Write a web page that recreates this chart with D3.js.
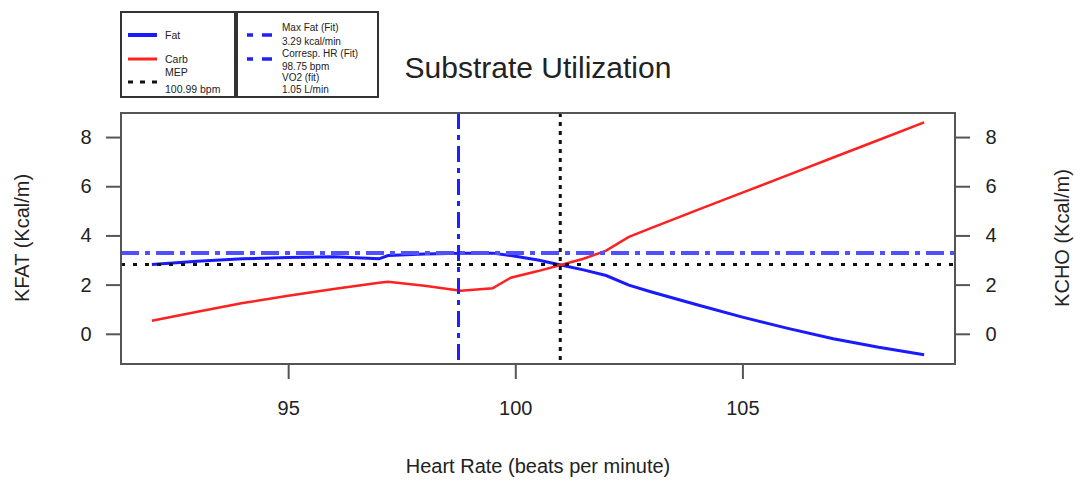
<!DOCTYPE html>
<html>
<head>
<meta charset="utf-8">
<script src="https://cdn.jsdelivr.net/npm/d3@7"></script>
<style>
  body { margin: 0; background: #fff; }
  svg { display: block; font-family: "Liberation Sans", Arial, Helvetica, sans-serif; }
</style>
</head>
<body>
<svg id="grafico" width="1075" height="481"></svg>
<script>
// Dados
const hr   = [92, 93, 94, 95, 96, 97, 97.2, 98, 98.8, 99.5, 99.9, 100.5, 101, 101.5, 102, 102.5, 103, 104, 105, 106, 107, 108, 109];
const fat  = [2.82, 2.95, 3.05, 3.1, 3.13, 3.05, 3.18, 3.24, 3.28, 3.28, 3.18, 3.0, 2.8, 2.6, 2.37, 1.98, 1.7, 1.18, 0.68, 0.22, -0.2, -0.55, -0.85];
const carb = [0.53, 0.9, 1.25, 1.55, 1.82, 2.08, 2.12, 1.95, 1.75, 1.85, 2.28, 2.55, 2.8, 3.05, 3.38, 3.94, 4.31, 5.03, 5.74, 6.45, 7.17, 7.88, 8.6];
const xTicks = [95, 100, 105];
const yTicks = [0, 2, 4, 6, 8];

const maxFat = 3.29;      // kcal/min
const hrMaxFat = 98.75;   // bpm
const mepHr = 100.99;     // bpm
const mepKcal = 2.82;

const legenda1 = ["Fat", "Carb", "MEP", "100.99 bpm"];
const legenda2 = ["Max Fat (Fit)", "3.29 kcal/min", "Corresp. HR (Fit)", "98.75 bpm", "VO2 (fit)", "1.05 L/min"];

const svg = d3.select("#grafico");
const caixa = { left: 121, right: 955, top: 113, bottom: 364 };
const corTexto = "#222";
const corEixo = "#555";

// escalas estilo R (4% de folga)
function folga(ext) {
    const p = (ext[1] - ext[0]) * 0.04;
    return [ext[0] - p, ext[1] + p];
}
const x = d3.scaleLinear().domain(folga(d3.extent(hr))).range([caixa.left, caixa.right]);
const y = d3.scaleLinear().domain(folga(d3.extent(fat.concat(carb)))).range([caixa.bottom, caixa.top]);

svg.append("clipPath").attr("id", "recorte")
    .append("rect")
    .attr("x", caixa.left).attr("y", caixa.top)
    .attr("width", caixa.right - caixa.left).attr("height", caixa.bottom - caixa.top);

const area = svg.append("g").attr("clip-path", "url(#recorte)");

const linha = d3.line().x(d => x(d[0])).y(d => y(d[1]));

area.append("path")
    .attr("d", linha(hr.map((h, i) => [h, fat[i]])))
    .attr("fill", "none").attr("stroke", "#1a1aff").attr("stroke-width", 3);

area.append("path")
    .attr("d", linha(hr.map((h, i) => [h, carb[i]])))
    .attr("fill", "none").attr("stroke", "#ff2020").attr("stroke-width", 2.5);

// linhas de referência
area.append("line")
    .attr("x1", caixa.left).attr("x2", caixa.right)
    .attr("y1", y(maxFat)).attr("y2", y(maxFat))
    .attr("stroke", "#5050ff").attr("stroke-width", 4)
    .attr("stroke-dasharray", "18,6,5,6");

area.append("line")
    .attr("x1", x(hrMaxFat)).attr("x2", x(hrMaxFat))
    .attr("y1", caixa.top).attr("y2", caixa.bottom)
    .attr("stroke", "#2020ff").attr("stroke-width", 3)
    .attr("stroke-dasharray", "16,6,5,6");

area.append("line")
    .attr("x1", caixa.left).attr("x2", caixa.right)
    .attr("y1", y(mepKcal)).attr("y2", y(mepKcal))
    .attr("stroke", "#111").attr("stroke-width", 3)
    .attr("stroke-dasharray", "4,8");

area.append("line")
    .attr("x1", x(mepHr)).attr("x2", x(mepHr))
    .attr("y1", caixa.top).attr("y2", caixa.bottom)
    .attr("stroke", "#111").attr("stroke-width", 3)
    .attr("stroke-dasharray", "4,5");

// caixa do gráfico
svg.append("rect")
    .attr("x", caixa.left).attr("y", caixa.top)
    .attr("width", caixa.right - caixa.left).attr("height", caixa.bottom - caixa.top)
    .attr("fill", "none").attr("stroke", corEixo).attr("stroke-width", 2);

// eixos
function estilo(g) {
    g.select(".domain").remove();
    g.selectAll(".tick line").attr("stroke", corEixo).attr("stroke-width", 2);
    g.selectAll(".tick text").attr("fill", corTexto).style("font-size", "20px");
}

svg.append("g")
    .attr("transform", `translate(0,${caixa.bottom})`)
    .call(d3.axisBottom(x).tickValues(xTicks).tickSize(15).tickPadding(22))
    .call(estilo);

svg.append("g")
    .attr("transform", `translate(${caixa.left},0)`)
    .call(d3.axisLeft(y).tickValues(yTicks).tickSize(15).tickPadding(13))
    .call(estilo)
    .selectAll(".tick text").attr("text-anchor", "middle").attr("x", -35);

svg.append("g")
    .attr("transform", `translate(${caixa.right},0)`)
    .call(d3.axisRight(y).tickValues(yTicks).tickSize(15).tickPadding(13))
    .call(estilo)
    .selectAll(".tick text").attr("text-anchor", "middle").attr("x", 36);

// títulos
svg.append("text")
    .attr("x", 538).attr("y", 473).attr("text-anchor", "middle")
    .attr("fill", corTexto).style("font-size", "20px")
    .text("Heart Rate (beats per minute)");

svg.append("text")
    .attr("transform", "translate(29,238) rotate(-90)").attr("text-anchor", "middle")
    .attr("fill", corTexto).style("font-size", "20px")
    .text("KFAT (Kcal/m)");

svg.append("text")
    .attr("transform", "translate(1069,238) rotate(-90)").attr("text-anchor", "middle")
    .attr("fill", corTexto).style("font-size", "20px")
    .text("KCHO (Kcal/m)");

svg.append("text")
    .attr("x", 538).attr("y", 78).attr("text-anchor", "middle")
    .attr("fill", corTexto).style("font-size", "30px")
    .text("Substrate Utilization");

// legenda 1
const leg1 = svg.append("g");
leg1.append("rect").attr("x", 121).attr("y", 12).attr("width", 114).attr("height", 85)
    .attr("fill", "#fff").attr("stroke", "#333").attr("stroke-width", 2);
const amostras1 = [
    { y: 35, cor: "#1a1aff", largura: 4, traco: null },
    { y: 59, cor: "#ff2020", largura: 3, traco: null },
    { y: 82, cor: "#111", largura: 3, traco: "5,7" }
];
amostras1.forEach(a => {
    leg1.append("line").attr("x1", 128).attr("x2", 157).attr("y1", a.y).attr("y2", a.y)
        .attr("stroke", a.cor).attr("stroke-width", a.largura)
        .attr("stroke-dasharray", a.traco);
});
const pos1 = [35, 59, 72, 89];
leg1.selectAll("text").data(legenda1).enter().append("text")
    .attr("x", 165).attr("y", (d, i) => pos1[i]).attr("dy", "0.35em")
    .attr("fill", corTexto).style("font-size", "10.5px")
    .text(d => d);

// legenda 2
const leg2 = svg.append("g");
leg2.append("rect").attr("x", 237).attr("y", 12).attr("width", 141).attr("height", 85)
    .attr("fill", "#fff").attr("stroke", "#333").attr("stroke-width", 2);
[35, 59].forEach(yy => {
    leg2.append("line").attr("x1", 247).attr("x2", 272).attr("y1", yy).attr("y2", yy)
        .attr("stroke", "#2020ff").attr("stroke-width", 3.5)
        .attr("stroke-dasharray", "6,9,10,40");
});
const pos2 = [27, 41, 53, 66, 77, 89];
leg2.selectAll("text").data(legenda2).enter().append("text")
    .attr("x", 282).attr("y", (d, i) => pos2[i]).attr("dy", "0.35em")
    .attr("fill", corTexto).style("font-size", "10px")
    .text(d => d);
</script>
</body>
</html>
